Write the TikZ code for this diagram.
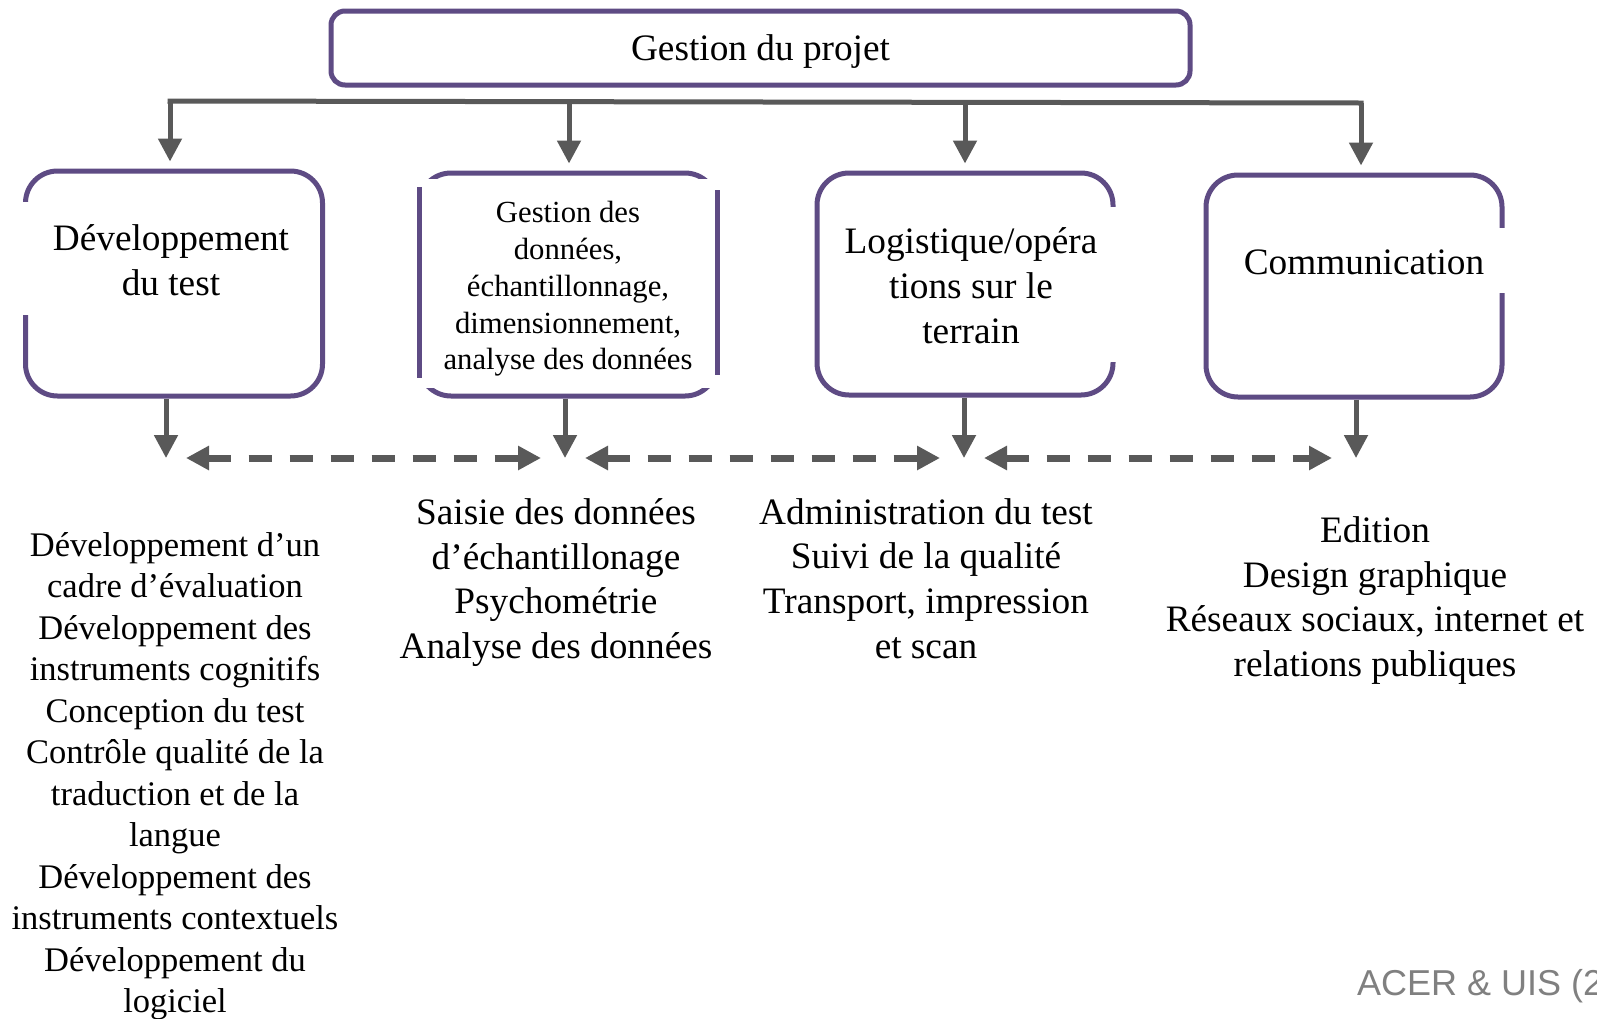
\documentclass[tikz,border=0pt]{standalone}
\usepackage{fontspec}
\setmainfont{Liberation Serif}
\newfontfamily\acerfont{Liberation Sans}
\usetikzlibrary{arrows.meta}
\definecolor{purp}{RGB}{94,75,132}
\definecolor{arrgray}{RGB}{89,89,89}
\definecolor{srcgray}{RGB}{128,128,128}
\begin{document}
\begin{tikzpicture}[x=1pt,y=-1pt,
  boxshape/.style={draw=purp, line width=5pt, rounded corners=32pt, inner sep=0pt},
  lbl/.style={inner sep=0pt, align=center, font=\fontsize{37.3pt}{44.8pt}\selectfont},
  arr/.style={draw=arrgray, line width=5pt, -{Triangle[length=23pt,width=23pt]}},
  darr/.style={draw=arrgray, line width=7pt, dash pattern=on 23pt off 18pt,
    {Triangle[length=23pt,width=23pt]}-{Triangle[length=23pt,width=23pt]}},
  patch/.style={fill=white, draw=none}]
\fill[white] (0,0) rectangle (1597,1018);
\useasboundingbox (0,0) rectangle (1597,1018);

% top box
\node[boxshape, rounded corners=14pt, minimum width=859pt, minimum height=74pt] (top) at (760.5,48) {};
\node[lbl] (topt) at (760.5,52) {Gestion du projet};

% four boxes
\node[boxshape, minimum width=297pt, minimum height=225pt] (b1) at (174,283.5) {};
\node[boxshape, minimum width=298pt, minimum height=223pt] (b2) at (568,284.5) {};
\node[boxshape, minimum width=296pt, minimum height=222pt] (b3) at (965,284) {};
\node[boxshape, minimum width=296pt, minimum height=222pt] (b4) at (1354,286) {};

% white patches over the borders (as in the reference)
\path[patch] (17,202) rectangle (33,315);
\path[patch] (405,178.5) rectangle (732,387.5);
\draw[purp, line width=5pt] (419,187) -- (419,378);
\draw[purp, line width=5pt] (717,190) -- (717,375);
\path[patch] (1104,207) rectangle (1122,362);
\path[patch] (1494,228) rectangle (1510,293);

% box texts
\node[lbl] (b1t) at (171,260) {Développement\\du test};
\node[lbl, font=\fontsize{30.7pt}{36.7pt}\selectfont] (b2t) at (568,289) {Gestion des\\données,\\échantillonnage,\\dimensionnement,\\analyse des données};
\node[lbl] (b3t) at (971,286) {Logistique/opéra\\tions sur le\\terrain};
\node[lbl] (b4t) at (1364,262) {Communication};

% bus and arrows to boxes
\coordinate (t1) at (170,101);
\coordinate (t2) at (569,102);
\coordinate (t3) at (965,102);
\coordinate (t4) at (1361,103);
\draw[draw=arrgray, line width=5pt, line cap=rect] (t1) -- (t4);
\draw[arr, shorten >=7pt] (t1) -- (t1 |- b1.north);
\draw[arr, shorten >=7pt] (t2) -- (t2 |- b2.north);
\draw[arr, shorten >=7pt] (t3) -- (t3 |- b3.north);
\draw[arr, shorten >=7pt] (t4) -- (t4 |- b4.north);

% arrows down from boxes
\coordinate (d1) at (166,458);
\coordinate (d2) at (565,458);
\coordinate (d3) at (964,458);
\coordinate (d4) at (1356,458);
\draw[arr] (d1 |- b1.south) -- (d1);
\draw[arr] (d2 |- b2.south) -- (d2);
\draw[arr] (d3 |- b3.south) -- (d3);
\draw[arr] (d4 |- b4.south) -- (d4);

% dashed double arrows
\draw[darr, shorten <=20pt, shorten >=24pt] (d1) -- (d2);
\draw[darr, shorten <=20pt, shorten >=24pt] (d2) -- (d3);
\draw[darr, shorten <=20pt, shorten >=24pt] (d3) -- (d4);

% column texts
\node[lbl, font=\fontsize{34.5pt}{41.5pt}\selectfont] (c1) at (175,776) {Développement d’un\\cadre d’évaluation\\Développement des\\instruments cognitifs\\Conception du test\\Contrôle qualité de la\\traduction et de la\\langue\\Développement des\\instruments contextuels\\Développement du\\logiciel};
\node[lbl] (c2) at (556,582.5) {Saisie des données\\d’échantillonage\\Psychométrie\\Analyse des données};
\node[lbl] (c3) at (926,578.5) {Administration du test\\Suivi de la qualité\\Transport, impression\\et scan};
\node[lbl] (c4) at (1375,600.5) {Edition\\Design graphique\\Réseaux sociaux, internet et\\relations publiques};

% source (cut at the right edge, as in the reference)
\begin{scope}
\clip (0,0) rectangle (1597,1018);
\node[anchor=base west, inner sep=0pt, text=srcgray, font=\acerfont\fontsize{36pt}{40pt}\selectfont] (src) at (1357,995) {ACER \& UIS (2};
\end{scope}
\end{tikzpicture}
\end{document}
